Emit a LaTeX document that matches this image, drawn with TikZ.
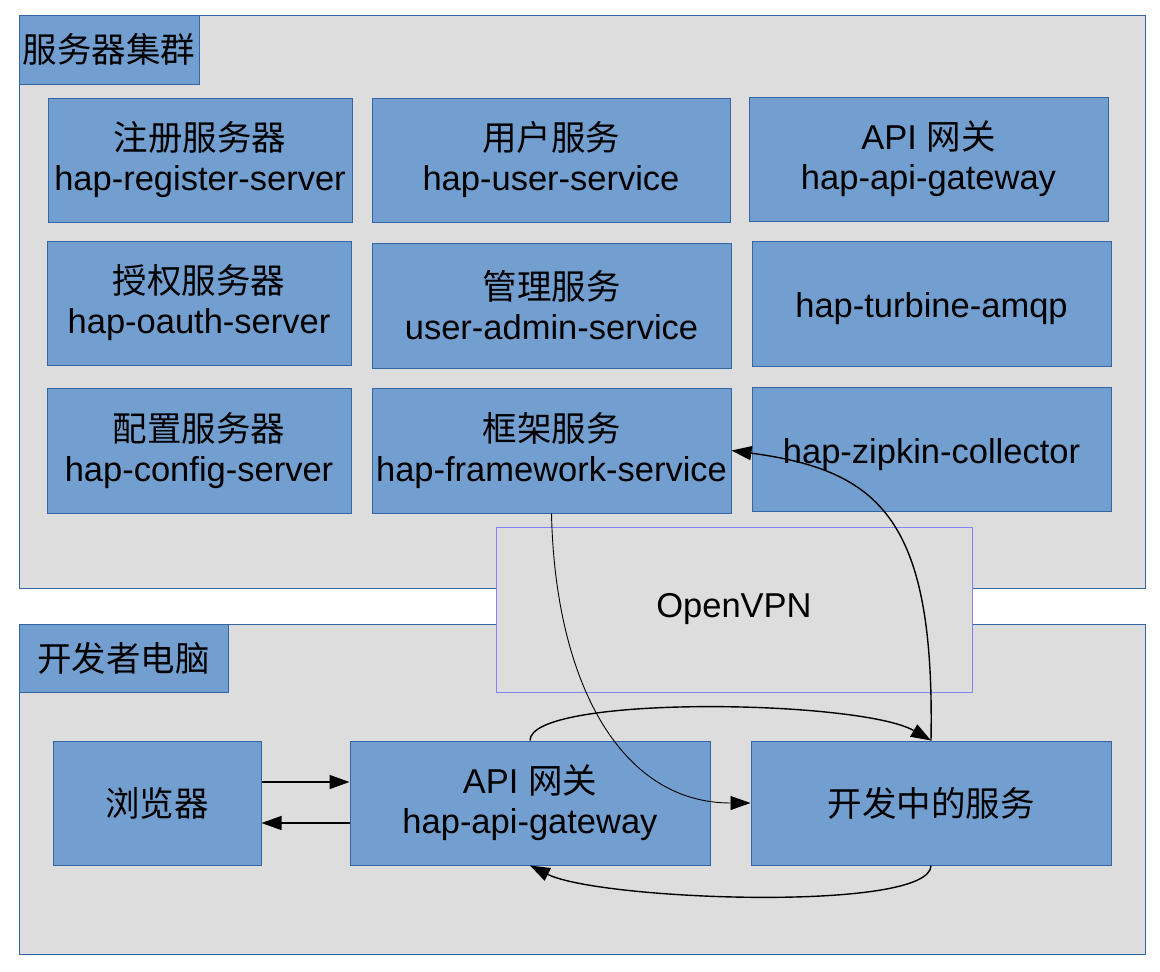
\documentclass[tikz,border=0pt]{standalone}
\usepackage{fontspec}
\setmainfont{Liberation Sans}
\newfontfamily\cjk{Noto Sans CJK SC}
\usetikzlibrary{arrows.meta}
\definecolor{boxc}{HTML}{729FCF}
\definecolor{bordc}{HTML}{3465A4}
\definecolor{bgc}{HTML}{DDDDDD}
\definecolor{vpnc}{HTML}{8383F3}
\tikzset{
  area/.style={draw=bordc, fill=bgc, line width=1pt},
  svc/.style={draw=bordc, fill=boxc, line width=1pt, inner sep=0pt, align=center,
    font=\fontsize{34.5}{40}\selectfont},
  lowtext/.style={execute at begin node={\rule{0pt}{36pt}}},
  lowtwo/.style={execute at begin node={\rule{0pt}{44pt}}},
  vpnbox/.style={draw=vpnc, fill=bgc, line width=1pt, inner sep=0pt, align=center,
    font=\fontsize{34.5}{40}\selectfont},
  conn/.style={line width=1.4pt, -{Triangle[length=20pt,width=14pt]}},
  thinconn/.style={line width=0.9pt, -{Triangle[length=20pt,width=14pt]}},
}
\begin{document}
\begin{tikzpicture}[x=1pt,y=-1pt]
\useasboundingbox (0,0) rectangle (1160,972);
% areas
\draw[area] (19,15) rectangle (1145,588);
\draw[area] (19,624) rectangle (1145,954);
% cluster
\node[svc, minimum width=180, minimum height=69] (t1) at (109,49.5) {\cjk 服务器集群};
\node[svc, lowtwo, minimum width=304, minimum height=124] (reg) at (200,160) {{\cjk 注册服务器}\\hap-register-server};
\node[svc, lowtwo, minimum width=358, minimum height=124] (user) at (551,160) {{\cjk 用户服务}\\hap-user-service};
\node[svc, lowtext, minimum width=359, minimum height=124] (gw1) at (928.5,159) {API {\cjk 网关}\\hap-api-gateway};
\node[svc, lowtwo, minimum width=304, minimum height=124] (oauth) at (199,303) {{\cjk 授权服务器}\\hap-oauth-server};
\node[svc, lowtwo, minimum width=359, minimum height=125] (admin) at (551.5,305.5) {{\cjk 管理服务}\\user-admin-service};
\node[svc, lowtext, minimum width=359, minimum height=125] (turb) at (931.5,303.5) {hap-turbine-amqp};
\node[svc, lowtwo, minimum width=304, minimum height=125] (conf) at (199,450.5) {{\cjk 配置服务器}\\hap-config-server};
\node[svc, lowtwo, minimum width=359, minimum height=125] (fw) at (551.5,450.5) {{\cjk 框架服务}\\hap-framework-service};
\node[svc, lowtext, minimum width=359, minimum height=124] (zip) at (931.5,449) {hap-zipkin-collector};
% developer
\node[svc, minimum width=209, minimum height=68] (t2) at (123.5,658) {\cjk 开发者电脑};
\node[svc, minimum width=208, minimum height=124] (br) at (157,803) {\cjk 浏览器};
\node[svc, lowtext, minimum width=360, minimum height=124] (gw2) at (530,803) {API {\cjk 网关}\\hap-api-gateway};
\node[svc, minimum width=360, minimum height=124] (dev) at (931,803) {\cjk 开发中的服务};
% vpn
\node[vpnbox, minimum width=476, minimum height=165] (vpn) at (734,609.5) {OpenVPN};
% connectors
\draw[conn] ([yshift=21pt]br.east) -- ([yshift=21pt]gw2.west);
\draw[conn] ([yshift=-20pt]gw2.west) -- ([yshift=-20pt]br.east);
\draw[thinconn] (fw.south) .. controls +(3.5,167) and +(-131,0) .. (dev.west);
\draw[conn] (gw2.north) .. controls +(0,-46) and +(-71,-41) .. (dev.north);
\draw[conn] (dev.north) .. controls +(4,-221) and +(149,20) .. (fw.east);
\draw[conn] (dev.south) .. controls +(0,47) and +(70,35) .. (gw2.south);
\end{tikzpicture}
\end{document}
